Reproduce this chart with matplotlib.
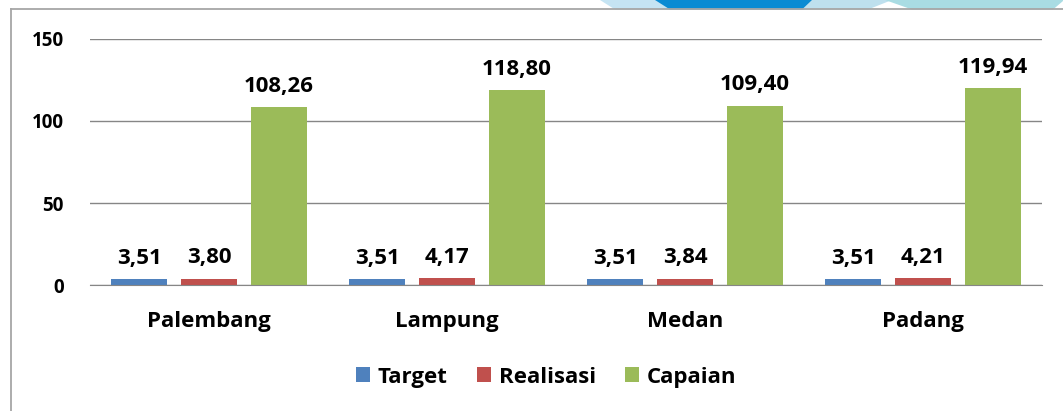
import matplotlib.pyplot as plt
from matplotlib.patches import Polygon, Patch
from matplotlib.lines import Line2D
import numpy as np

plt.rcParams["font.family"] = ["Open Sans", "DejaVu Sans"]

# --- data ---------------------------------------------------------------
cities = ["Palembang", "Lampung", "Medan", "Padang"]
target = [3.51, 3.51, 3.51, 3.51]
realisasi = [3.80, 4.17, 3.84, 4.21]
capaian = [108.26, 118.80, 109.40, 119.94]
series_names = ["Target", "Realisasi", "Capaian"]
yticks = [0, 50, 100, 150]

BLUE = "#4F81BD"
RED = "#C0504D"
GREEN = "#9BBB59"
GRID = "#868686"

W, H = 1063, 411
fig = plt.figure(figsize=(W / 100, H / 100), dpi=100)
fig.patch.set_facecolor("white")


def px(x, y):
    return (x / W, 1 - y / H)


# decorative header band (top right)
for pts, col in [
    ([(600, 0), (660, 0), (672, 9.5), (615, 9.5)], "#C5E4F3"),
    ([(655, 0), (814, 0), (804, 9.5), (670, 9.5)], "#0A8BD3"),
    ([(812, 0), (892, 0), (868, 9.5), (802, 9.5)], "#BEE0EE"),
    ([(885, 0), (1063, 0), (1063, 1), (1053, 9.5), (912, 9.5)], "#A9DCE3"),
]:
    fig.patches.append(Polygon([px(*p) for p in pts], closed=True,
                               transform=fig.transFigure, facecolor=col,
                               edgecolor="none"))

# outer frame (top + left)
fig.add_artist(Line2D([px(10.5, 9.5)[0], 1], [px(10.5, 9.5)[1]] * 2,
                      transform=fig.transFigure, color="#A6A6A6", lw=1.3))
fig.add_artist(Line2D([px(10.5, 0)[0]] * 2, [px(0, 9.5)[1], 0],
                      transform=fig.transFigure, color="#A6A6A6", lw=1.3))

ax = fig.add_axes([90 / W, 1 - 285 / H, (1042 - 90) / W, (285 - 39) / H])
x = np.arange(len(cities))
bw = 0.235
off = 0.294
for i, (vals, col) in enumerate(zip([target, realisasi, capaian], [BLUE, RED, GREEN])):
    bars = ax.bar(x + (i - 1) * off, vals, width=bw, color=col, zorder=3)
    for b, v in zip(bars, vals):
        ax.annotate(f"{v:.2f}".replace(".", ","),
                    (b.get_x() + b.get_width() / 2, v),
                    xytext=(0, 7.5), textcoords="offset points",
                    ha="center", va="bottom", fontsize=16, fontweight="bold")

ax.set_xlim(-0.5, len(cities) - 0.5)
ax.set_ylim(0, 150)
ax.set_yticks(yticks)
ax.set_yticklabels([str(t) for t in yticks], fontsize=13.5, fontweight="bold")
ax.set_xticks(x)
ax.set_xticklabels(cities, fontsize=16, fontweight="bold")
ax.tick_params(axis="y", length=0, pad=19)
ax.tick_params(axis="x", length=0, pad=19)
ax.grid(axis="y", color=GRID, lw=1, zorder=0)
for s in ["top", "right", "left"]:
    ax.spines[s].set_visible(False)
ax.spines["bottom"].set_color(GRID)
ax.spines["bottom"].set_zorder(4)

handles = [Patch(facecolor=c, edgecolor="none") for c in [BLUE, RED, GREEN]]
fig.legend(handles, series_names, loc="center", bbox_to_anchor=(px(546, 377)),
           ncol=3, frameon=False, prop={"weight": "bold", "size": 16},
           handlelength=0.65, handleheight=0.65, handletextpad=0.35, columnspacing=1.3)

fig.savefig("out.png", dpi=100)
